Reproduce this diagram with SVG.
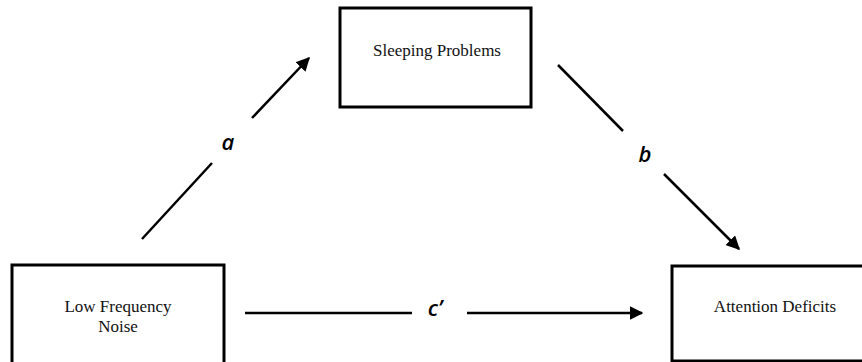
<svg xmlns="http://www.w3.org/2000/svg" width="862" height="362" viewBox="0 0 862 362">
<style>
.box{fill:#fff;stroke:#000;stroke-width:3}
.nt{font-family:"Liberation Serif","Times New Roman",serif;font-size:17px;fill:#111;text-anchor:middle}
.ln{stroke:#000;stroke-width:2.5;fill:none}
.lb{font-family:"Open Sans","Liberation Sans",sans-serif;font-style:italic;font-weight:600;font-size:22px;fill:#000;text-anchor:middle}
</style>
<defs>
<marker id="ah" viewBox="0 0 10 10" refX="9" refY="5" markerWidth="5.5" markerHeight="5.5" orient="auto" markerUnits="strokeWidth">
<path d="M0,0 L10,5 L0,10 z" fill="#000"/>
</marker>
</defs>
<rect width="862" height="362" fill="#fff"/>
<g id="sleeping">
<rect class="box" x="340" y="8" width="191" height="99"/>
<text class="nt" x="437" y="56">Sleeping Problems</text>
</g>
<g id="noise">
<rect class="box" x="12" y="265" width="212" height="100"/>
<text class="nt" x="118" y="312">Low Frequency</text>
<text class="nt" x="118" y="332">Noise</text>
</g>
<g id="attention">
<rect class="box" x="672" y="266" width="195" height="95"/>
<text class="nt" x="775" y="312">Attention Deficits</text>
</g>
<g id="connectors">
<line class="ln" x1="142" y1="239" x2="212" y2="163"/>
<line class="ln" x1="252" y1="118" x2="309" y2="58" marker-end="url(#ah)"/>
<text class="lb" x="228" y="150">a</text>
<line class="ln" x1="558" y1="65" x2="623" y2="131"/>
<line class="ln" x1="664" y1="174" x2="739" y2="249" marker-end="url(#ah)"/>
<text class="lb" x="645" y="162">b</text>
<line class="ln" x1="245" y1="313" x2="412" y2="313"/>
<line class="ln" x1="467" y1="313" x2="642" y2="313" marker-end="url(#ah)"/>
<text class="lb" x="435" y="316">c’</text>
</g>
</svg>
